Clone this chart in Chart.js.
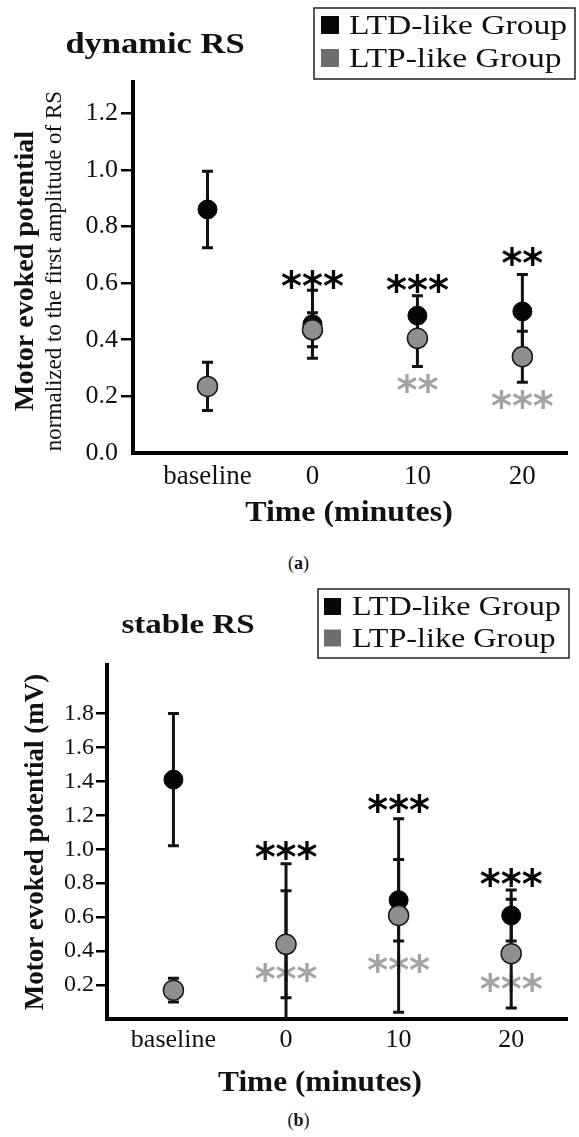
<!DOCTYPE html>
<html>
<head>
<meta charset="utf-8">
<script src="https://cdn.jsdelivr.net/npm/chart.js@4.4.1/dist/chart.umd.min.js"></script>
<style>
  html, body { margin: 0; padding: 0; background: #ffffff; }
  body { width: 579px; height: 1137px; position: relative; overflow: hidden; font-family: "Liberation Serif", serif; }
  .panel { position: absolute; left: 0; width: 579px; }
  .panel canvas { display: block; }
  #wrapA { top: 0; height: 545px; }
  #wrapB { top: 575px; height: 530px; }
  .caption { position: absolute; left: 9px; width: 579px; text-align: center; font-size: 18px; line-height: 22px; color: #111; }
</style>
</head>
<body>
<div class="panel" id="wrapA"><canvas id="chartA" width="579" height="545"></canvas></div>
<div class="caption" style="top:552px">(<b>a</b>)</div>
<div class="panel" id="wrapB"><canvas id="chartB" width="579" height="530"></canvas></div>
<div class="caption" style="top:1109px">(<b>b</b>)</div>

<script>
// Time points after the intervention
const categories = ['baseline', '0', '10', '20'];

// (a) dynamic RS: MEP normalized to the first amplitude of the RS
const yTicksA = [0.0, 0.2, 0.4, 0.6, 0.8, 1.0, 1.2];
const ltdMeanA = [0.86, 0.455, 0.485, 0.50];
const ltdErrA = [0.135, 0.12, 0.07, 0.13];
const ltpMeanA = [0.235, 0.435, 0.405, 0.34];
const ltpErrA = [0.085, 0.06, 0.10, 0.09];
const ltdStarsA = ['', '***', '***', '**'];
const ltdStarAtA = [null, 0.615, 0.60, 0.695];
const ltpStarsA = ['', '', '**', '***'];
const ltpStarAtA = [null, null, 0.248, 0.192];

// (b) stable RS: MEP amplitude in mV
const yTicksB = [0.2, 0.4, 0.6, 0.8, 1.0, 1.2, 1.4, 1.6, 1.8];
const ltdMeanB = [1.41, 0.44, 0.70, 0.61];
const ltdErrB = [0.39, 0.475, 0.24, 0.15];
const ltpMeanB = [0.17, 0.44, 0.61, 0.385];
const ltpErrB = [0.07, 0.315, 0.57, 0.32];
const ltdStarsB = ['', '***', '***', '***'];
const ltdStarAtB = [null, 0.995, 1.27, 0.838];
const ltpStarsB = ['', '***', '***', '***'];
const ltpStarAtB = [null, 0.279, 0.332, 0.22];

const SERIF = '"Liberation Serif", "Times New Roman", serif';

// Significance stars and SEM whiskers, drawn underneath the markers
const errorBars = {
  id: 'errorBars',
  beforeDatasetsDraw(chart) {
    const { ctx, chartArea: a, scales: { x, y } } = chart;
    ctx.save();
    ctx.font = 'bold 40px "DejaVu Sans", sans-serif';
    ctx.textAlign = 'center';
    ctx.textBaseline = 'alphabetic';
    chart.data.datasets.forEach(ds => {
      (ds.stars || []).forEach((s, i) => {
        if (!s) return;
        const m = ctx.measureText(s);
        const cy = y.getPixelForValue(ds.starAt[i]);
        const base = cy + (m.actualBoundingBoxAscent - m.actualBoundingBoxDescent) / 2;
        ctx.fillStyle = ds.starColor;
        ctx.fillText(s, x.getPixelForValue(i), base);
      });
    });
    ctx.beginPath();
    ctx.rect(a.left, a.top, a.right - a.left, a.bottom - a.top);
    ctx.clip();
    ctx.strokeStyle = '#111';
    ctx.lineWidth = 3;
    chart.data.datasets.forEach(ds => {
      ds.data.forEach((p, i) => {
        const e = ds.errors[i];
        const px = x.getPixelForValue(p.x);
        const top = y.getPixelForValue(p.y + e);
        const bot = y.getPixelForValue(p.y - e);
        ctx.beginPath();
        ctx.moveTo(px, top); ctx.lineTo(px, bot);
        ctx.moveTo(px - 5.5, top); ctx.lineTo(px + 5.5, top);
        ctx.moveTo(px - 5.5, bot); ctx.lineTo(px + 5.5, bot);
        ctx.stroke();
      });
    });
    ctx.restore();
  }
};

function stretchedText(ctx, text, x, y, font, sx) {
  ctx.save();
  ctx.translate(x, y);
  ctx.scale(sx, 1);
  ctx.font = font;
  ctx.fillText(text, 0, 0);
  ctx.restore();
}

// Panel heading, axis titles and the boxed legend
const panelDecor = {
  id: 'panelDecor',
  afterDraw(chart, args, o) {
    const ctx = chart.ctx;
    ctx.save();
    ctx.fillStyle = '#111';
    ctx.textBaseline = 'alphabetic';
    ctx.textAlign = 'center';
    stretchedText(ctx, o.title.text, o.title.x, o.title.y, o.title.font, o.title.sx);
    stretchedText(ctx, o.xTitle.text, o.xTitle.x, o.xTitle.y, o.xTitle.font, o.xTitle.sx);
    o.yTitles.forEach(t => {
      ctx.save();
      ctx.translate(t.x, t.y);
      ctx.rotate(-Math.PI / 2);
      ctx.font = t.font;
      ctx.fillText(t.text, 0, 0);
      ctx.restore();
    });
    const L = o.legend;
    ctx.lineWidth = 1.5;
    ctx.strokeStyle = '#222';
    ctx.strokeRect(L.x, L.y, L.w, L.h);
    ctx.textAlign = 'left';
    chart.data.datasets.forEach((ds, i) => {
      ctx.fillStyle = ds.swatch;
      ctx.fillRect(L.boxX, L.rows[i] - L.box, L.box, L.box);
      ctx.fillStyle = '#111';
      stretchedText(ctx, ds.label, L.textX, L.rows[i], L.font, L.sx);
    });
    ctx.restore();
  }
};

function buildChart(id, c) {
  const ltd = {
    label: 'LTD-like Group',
    data: c.ltdMean.map((v, i) => ({ x: i, y: v })),
    errors: c.ltdErr, stars: c.ltdStars, starAt: c.ltdStarAt,
    starColor: '#050505', swatch: '#080808',
    backgroundColor: '#050505', borderColor: '#050505', borderWidth: 1,
    pointRadius: 9.5, order: 1
  };
  const ltp = {
    label: 'LTP-like Group',
    data: c.ltpMean.map((v, i) => ({ x: i, y: v })),
    errors: c.ltpErr, stars: c.ltpStars, starAt: c.ltpStarAt,
    starColor: '#a4a4a4', swatch: '#6e6e6e',
    backgroundColor: '#8f8f8f', borderColor: '#1a1a1a', borderWidth: 1.5,
    pointRadius: 10, order: 0
  };
  return new Chart(document.getElementById(id), {
    type: 'scatter',
    data: { datasets: [ltd, ltp] },
    options: {
      responsive: false,
      animation: false,
      events: [],
      layout: { padding: { top: c.padTop, right: c.padRight, left: 0, bottom: 0 } },
      plugins: { legend: { display: false }, tooltip: { enabled: false }, panelDecor: c.decor },
      scales: {
        x: {
          type: 'linear', position: 'bottom', min: c.xMin, max: c.xMax,
          afterBuildTicks: s => { s.ticks = categories.map((_, i) => ({ value: i })); },
          afterFit: s => { s.height = c.xAxisHeight; },
          grid: { display: false, drawTicks: false },
          border: { display: true, width: 4, color: '#000' },
          ticks: {
            autoSkip: false, maxRotation: 0, padding: c.xTickPad, color: '#111',
            font: { family: SERIF, size: c.xTickSize },
            callback: v => categories[Math.round(v)]
          }
        },
        y: {
          type: 'linear', min: 0, max: c.yMax,
          afterBuildTicks: s => { s.ticks = c.yTicks.map(v => ({ value: v })); },
          afterFit: s => { s.width = c.yAxisWidth; },
          grid: {
            display: true, drawOnChartArea: false, drawTicks: true,
            tickLength: c.tickLen, lineWidth: 2.5,
            color: ctx => (ctx.tick && ctx.tick.value === 0 ? 'rgba(0,0,0,0)' : '#000')
          },
          border: { display: true, width: 4, color: '#000' },
          ticks: {
            padding: c.yTickPad, color: '#111',
            font: { family: SERIF, size: c.yTickSize },
            callback: v => v.toFixed(1)
          }
        }
      }
    },
    plugins: [errorBars, panelDecor]
  });
}

buildChart('chartA', {
  ltdMean: ltdMeanA, ltdErr: ltdErrA, ltpMean: ltpMeanA, ltpErr: ltpErrA,
  ltdStars: ltdStarsA, ltdStarAt: ltdStarAtA, ltpStars: ltpStarsA, ltpStarAt: ltpStarAtA,
  yTicks: yTicksA, yMax: 1.31, xMin: -0.71, xMax: 3.43,
  padTop: 82, padRight: 1, xAxisHeight: 92, yAxisWidth: 133,
  xTickPad: 8, xTickSize: 27, yTickPad: 3, yTickSize: 26, tickLen: 12,
  decor: {
    title: { text: 'dynamic RS', x: 155, y: 53, font: 'bold 30px ' + SERIF, sx: 1.15 },
    xTitle: { text: 'Time (minutes)', x: 349, y: 521, font: 'bold 29px ' + SERIF, sx: 1.1 },
    yTitles: [
      { text: 'Motor evoked potential', x: 33, y: 271, font: 'bold 28px ' + SERIF },
      { text: 'normalized to the first amplitude of RS', x: 61, y: 271, font: '23px ' + SERIF }
    ],
    legend: { x: 314, y: 8, w: 261, h: 71, boxX: 321, box: 18, textX: 349, rows: [34, 67],
              font: '28px ' + SERIF, sx: 1.2 }
  }
});

buildChart('chartB', {
  ltdMean: ltdMeanB, ltdErr: ltdErrB, ltpMean: ltpMeanB, ltpErr: ltpErrB,
  ltdStars: ltdStarsB, ltdStarAt: ltdStarAtB, ltpStars: ltpStarsB, ltpStarAt: ltpStarAtB,
  yTicks: yTicksB, yMax: 2.085, xMin: -0.59, xMax: 3.5,
  padTop: 90, padRight: 7, xAxisHeight: 86, yAxisWidth: 107,
  xTickPad: 6, xTickSize: 26, yTickPad: 2, yTickSize: 24, tickLen: 11,
  decor: {
    title: { text: 'stable RS', x: 188, y: 58, font: 'bold 28px ' + SERIF, sx: 1.18 },
    xTitle: { text: 'Time (minutes)', x: 320, y: 516, font: 'bold 29px ' + SERIF, sx: 1.08 },
    yTitles: [
      { text: 'Motor evoked potential (mV)', x: 43, y: 267, font: 'bold 27px ' + SERIF }
    ],
    legend: { x: 318, y: 14, w: 251, h: 69, boxX: 324, box: 17, textX: 352, rows: [40, 71.5],
              font: '28px ' + SERIF, sx: 1.15 }
  }
});
</script>
</body>
</html>
